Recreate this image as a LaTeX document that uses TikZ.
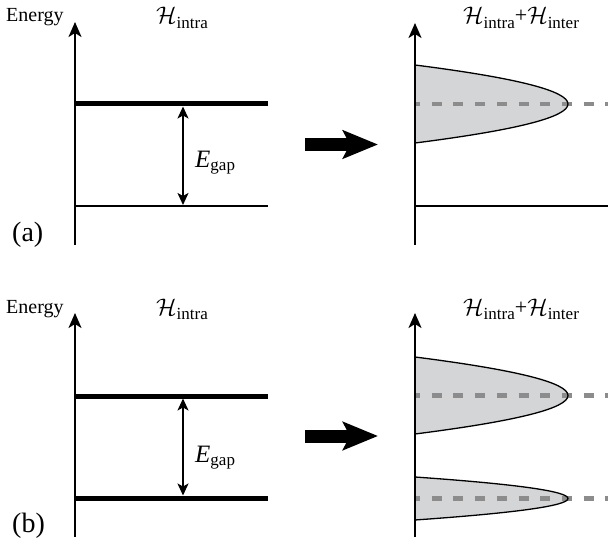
\RequirePackage{fix-cm}
\documentclass[tikz,border=0pt]{standalone}
\usepackage{fontspec}
\setmainfont{Liberation Serif}
\usetikzlibrary{arrows.meta}
\definecolor{bandgray}{RGB}{212,213,215}
\definecolor{dashgray}{RGB}{140,140,140}
\newcommand{\bigH}{{\fontsize{24}{26}\selectfont$\mathcal{H}$}}
\newcommand{\hsub}[1]{\raisebox{-4.5pt}{\fontsize{17}{20}\selectfont #1}}
\newcommand{\egap}{{\fontsize{25}{28}\selectfont\itshape E}\raisebox{-3pt}{\fontsize{17}{20}\selectfont gap}}
\begin{document}
\begin{tikzpicture}[x=1pt,y=-1pt,
  axis/.style={line width=2pt,-{Stealth[length=15pt,width=13pt,inset=4pt]}},
  thicklevel/.style={line width=5pt},
  thinlevel/.style={line width=1.7pt},
  gaparrow/.style={line width=1.5pt,{Stealth[length=12pt,width=11pt,inset=3pt]}-{Stealth[length=12pt,width=11pt,inset=3pt]}},
  bandfill/.style={fill=bandgray},
  bandline/.style={draw=black,line width=1.3pt},
  centerline/.style={draw=dashgray,line width=4.5pt,dash pattern=on 10pt off 11.7pt,dash phase=5pt},
  bigarrow/.style={line width=13pt,-{Stealth[length=35pt,width=28pt,inset=7pt]}},
  lbl/.style={inner sep=0pt,anchor=base west,font=\fontsize{20}{24}\selectfont},
  panellbl/.style={inner sep=0pt,anchor=base west,font=\fontsize{28}{32}\selectfont},
  gaplbl/.style={inner sep=0pt,anchor=base west}
]
\useasboundingbox (0,0) rectangle (608,548);

% ================= panel (a) =================
% left
\coordinate (a-ax0) at (75,245);
\coordinate (a-ax1) at (75,22);
\coordinate (a-up0) at (75,104);
\coordinate (a-up1) at (268,104);
\coordinate (a-lo0) at (75,206);
\coordinate (a-lo1) at (268,206);
\coordinate (a-g0) at (183,106.5);
\coordinate (a-g1) at (183,205);
\draw[thicklevel] (a-up0) -- (a-up1);
\draw[thinlevel] (a-lo0) -- (a-lo1);
\draw[axis] (a-ax0) -- (a-ax1);
\draw[gaparrow] (a-g0) -- (a-g1);
\node[lbl] (a-energy) at (6,22) {Energy};
\node[lbl] (a-hin) at (156,24) {\bigH\hsub{intra}};
\node[gaplbl] (a-egap) at (195,168) {\egap};
\node[panellbl] (a-lab) at (12,242) {(a)};
% big arrow
\coordinate (a-b0) at (305,144.5);
\coordinate (a-b1) at (378,144.5);
\draw[bigarrow] (a-b0) -- (a-b1);
% right
\coordinate (a-rax0) at (415,245);
\coordinate (a-rax1) at (415,23);
\coordinate (a-bt) at (415,65);
\coordinate (a-bb) at (415,143);
\coordinate (a-c0) at (415,104);
\coordinate (a-c1) at (608,104);
\coordinate (a-rlo1) at (608,206);
\fill[bandfill] (a-bt) .. controls (619,91) and (619,117) .. (a-bb) -- cycle;
\draw[centerline] (a-c0) -- (a-c1);
\draw[bandline] (a-bt) .. controls (619,91) and (619,117) .. (a-bb);
\draw[thinlevel] (a-rax0 |- a-lo0) -- (a-rlo1);
\draw[axis] (a-rax0) -- (a-rax1);
\node[lbl] (a-hboth) at (463,24) {\bigH\hsub{intra}\raisebox{1pt}{\fontsize{22}{24}\selectfont +}\bigH\hsub{inter}};

% ================= panel (b) =================
\coordinate (b-ax0) at (75,537);
\coordinate (b-ax1) at (75,313);
\coordinate (b-up0) at (75,396);
\coordinate (b-up1) at (268,396);
\coordinate (b-lo0) at (75,498);
\coordinate (b-lo1) at (268,498);
\coordinate (b-g0) at (183,398.5);
\coordinate (b-g1) at (183,495.5);
\draw[thicklevel] (b-up0) -- (b-up1);
\draw[thicklevel] (b-lo0) -- (b-lo1);
\draw[axis] (b-ax0) -- (b-ax1);
\draw[gaparrow] (b-g0) -- (b-g1);
\node[lbl] (b-energy) at (6,313) {Energy};
\node[lbl] (b-hin) at (156,315) {\bigH\hsub{intra}};
\node[gaplbl] (b-egap) at (195,462) {\egap};
\node[panellbl] (b-lab) at (12,532) {(b)};
% big arrow
\coordinate (b-b0) at (305,436);
\coordinate (b-b1) at (378,436);
\draw[bigarrow] (b-b0) -- (b-b1);
% right
\coordinate (b-rax0) at (415,537);
\coordinate (b-rax1) at (415,313);
\coordinate (b-ut) at (415,357);
\coordinate (b-ub) at (415,434);
\coordinate (b-lt) at (415,477);
\coordinate (b-lb) at (415,520);
\coordinate (b-uc0) at (415,395.5);
\coordinate (b-uc1) at (608,395.5);
\coordinate (b-lc0) at (415,498.5);
\coordinate (b-lc1) at (608,498.5);
\fill[bandfill] (b-ut) .. controls (619,383) and (619,408) .. (b-ub) -- cycle;
\fill[bandfill] (b-lt) .. controls (619,491.3) and (619,505.7) .. (b-lb) -- cycle;
\draw[centerline] (b-uc0) -- (b-uc1);
\draw[centerline] (b-lc0) -- (b-lc1);
\draw[bandline] (b-ut) .. controls (619,383) and (619,408) .. (b-ub);
\draw[bandline] (b-lt) .. controls (619,491.3) and (619,505.7) .. (b-lb);
\draw[axis] (b-rax0) -- (b-rax1);
\node[lbl] (b-hboth) at (463,315) {\bigH\hsub{intra}\raisebox{1pt}{\fontsize{22}{24}\selectfont +}\bigH\hsub{inter}};
\end{tikzpicture}
\end{document}
